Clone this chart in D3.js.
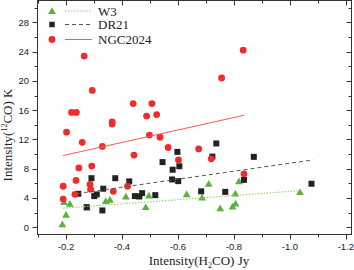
<!DOCTYPE html>
<html>
<head>
<meta charset="utf-8">
<script src="https://cdn.jsdelivr.net/npm/d3@7"></script>
<style>
  body { margin: 0; background: #fff; }
  svg { display: block; }
  .tick-label { font-family: "Liberation Sans", Arial, sans-serif; font-size: 9.5px; fill: #222; }
  .serif { font-family: "Liberation Serif", "Times New Roman", serif; font-size: 13px; fill: #222; }
</style>
</head>
<body>
<div id="root"></div>
<script>
// W3 (green triangles)
const w3X = [-0.187, -0.200, -0.193, -0.214, -0.275, -0.342, -0.357, -0.414, -0.485, -0.496,
             -0.631, -0.686, -0.710, -0.751, -0.795, -0.806, -0.805, -0.818, -1.036]
const w3Y = [0.4, 1.7, 3.45, 3.2, 2.7, 3.6, 3.75, 4.2, 2.75, 4.35,
             4.5, 4.05, 5.95, 2.6, 2.85, 3.25, 4.6, 6.3, 4.8]

// DR21 (black squares)
const dr21X = [-0.244, -0.274, -0.291, -0.301, -0.310, -0.330, -0.333, -0.376, -0.426, -0.446,
               -0.462, -0.472, -0.519, -0.545, -0.579, -0.581, -0.598, -0.601, -0.605, -0.683,
               -0.723, -0.737, -0.769, -0.836, -0.871, -1.077]
const dr21Y = [4.57, 2.74, 6.7, 4.25, 4.48, 2.29, 5.26, 6.7, 6.26, 4.25,
               4.2, 4.66, 4.38, 8.9, 6.53, 7.86, 10.3, 6.3, 8.33, 4.9,
               9.65, 11.45, 4.83, 6.47, 9.62, 5.94]

// NGC2024 (red circles)
const ngcX = [-0.190, -0.190, -0.202, -0.220, -0.237, -0.232, -0.236, -0.246, -0.258, -0.265,
              -0.286, -0.288, -0.292, -0.294, -0.330, -0.365, -0.365, -0.369, -0.420, -0.440,
              -0.443, -0.488, -0.498, -0.507, -0.524, -0.536, -0.565, -0.602, -0.674, -0.719,
              -0.756, -0.833, -0.836]
const ngcY = [3.84, 5.6, 13.0, 15.7, 15.7, 4.5, 6.4, 8.1, 11.6, 23.4,
              5.85, 5.2, 8.36, 18.7, 11.05, 14.4, 14.1, 4.9, 5.6, 16.9,
              9.86, 15.2, 12.6, 16.9, 15.4, 12.3, 10.9, 9.2, 10.7, 9.35,
              20.4, 24.2, 7.3]

// linear fits (end points)
const w3FitX = [-0.19, -1.036], w3FitY = [2.6, 5.0]
const dr21FitX = [-0.24, -1.083], dr21FitY = [4.6, 9.2]
const ngcFitX = [-0.19, -0.836], ngcFitY = [9.8, 15.3]

const xMajor = [-0.2, -0.4, -0.6, -0.8, -1.0, -1.2]
const xMinor = [-0.1, -0.3, -0.5, -0.7, -0.9, -1.1]
const yMajor = [0, 4, 8, 12, 16, 20, 24, 28]
const yMinor = [2, 6, 10, 14, 18, 22, 26, 30]

const legendNames = ['W3', 'DR21', 'NGC2024']

const w = 354, h = 270
const mLeft = 37.5, mRight = 351.5, mTop = 0.5, mBottom = 234.5

const x = d3.scaleLinear().domain([-0.1, -1.22]).range([mLeft + 0.5, mRight])
const y = d3.scaleLinear().domain([-1, 31]).range([mBottom, mTop])

const green = '#59b33a', black = '#222', red = '#f22a2a'

const svg = d3.select('#root')
    .append('svg')
    .attr('width', w)
    .attr('height', h)

// frame
svg.append('rect')
    .attr('x', mLeft).attr('y', mTop)
    .attr('width', mRight - mLeft).attr('height', mBottom - mTop)
    .attr('fill', 'none').attr('stroke', '#333').attr('stroke-width', 1)

const ticks = svg.append('g').attr('stroke', '#333').attr('stroke-width', 1)

// bottom (outward) and top (inward) ticks
xMajor.concat(xMinor).forEach(function(v) {
    const len = xMajor.includes(v) ? 5 : 3
    const px = Math.round(x(v)) + 0.5
    ticks.append('line').attr('x1', px).attr('x2', px).attr('y1', mBottom).attr('y2', mBottom + len)
    ticks.append('line').attr('x1', px).attr('x2', px).attr('y1', mTop).attr('y2', mTop + len)
})
// left (outward) and right (inward) ticks
yMajor.concat(yMinor).forEach(function(v) {
    const len = yMajor.includes(v) ? 5 : 3
    const py = Math.round(y(v)) + 0.5
    ticks.append('line').attr('y1', py).attr('y2', py).attr('x1', mLeft).attr('x2', mLeft - len)
    ticks.append('line').attr('y1', py).attr('y2', py).attr('x1', mRight).attr('x2', mRight - len)
})

svg.selectAll('.xlab')
    .data(xMajor)
    .enter()
    .append('text')
    .attr('class', 'tick-label')
    .attr('x', d => x(d))
    .attr('y', 250)
    .attr('text-anchor', 'middle')
    .text(d => d.toFixed(1))

svg.selectAll('.ylab')
    .data(yMajor)
    .enter()
    .append('text')
    .attr('class', 'tick-label')
    .attr('x', 29)
    .attr('y', d => y(d) + 3.4)
    .attr('text-anchor', 'end')
    .text(d => d)

// axis titles
const xt = svg.append('text')
    .attr('class', 'serif')
    .attr('x', 199)
    .attr('y', 265)
    .attr('text-anchor', 'middle')
xt.append('tspan').text('Intensity(H')
xt.append('tspan').attr('font-size', 8).attr('dy', 3).text('2')
xt.append('tspan').attr('dy', -3).text('CO) Jy')

const yt = svg.append('text')
    .attr('class', 'serif')
    .attr('transform', 'translate(12,135) rotate(-90)')
    .attr('text-anchor', 'middle')
yt.append('tspan').text('Intensity(')
yt.append('tspan').attr('font-size', 8).attr('dy', -5).text('12')
yt.append('tspan').attr('dy', 5).text('CO) K')

// markers
const tri = d3.symbol().type(d3.symbolTriangle).size(26)
const sq = d3.symbol().type(d3.symbolSquare).size(36)

svg.append('g').selectAll('path')
    .data(d3.zip(w3X, w3Y))
    .enter()
    .append('path')
    .attr('d', tri)
    .attr('transform', d => 'translate(' + x(d[0]) + ',' + (y(d[1]) + 0.8) + ')')
    .attr('fill', green)

svg.append('g').selectAll('path')
    .data(d3.zip(dr21X, dr21Y))
    .enter()
    .append('path')
    .attr('d', sq)
    .attr('transform', d => 'translate(' + x(d[0]) + ',' + y(d[1]) + ')')
    .attr('fill', black)

svg.append('g').selectAll('circle')
    .data(d3.zip(ngcX, ngcY))
    .enter()
    .append('circle')
    .attr('cx', d => x(d[0]))
    .attr('cy', d => y(d[1]))
    .attr('r', 3.4)
    .attr('fill', red)

// fit lines
const line = d3.line().x(d => x(d[0])).y(d => y(d[1]))
svg.append('path').attr('d', line(d3.zip(w3FitX, w3FitY)))
    .attr('stroke', '#8fd46a').attr('stroke-width', 1.1).attr('stroke-dasharray', '1.5,1.5').attr('fill', 'none')
svg.append('path').attr('d', line(d3.zip(dr21FitX, dr21FitY)))
    .attr('stroke', '#555').attr('stroke-width', 1).attr('stroke-dasharray', '4,3').attr('fill', 'none')
svg.append('path').attr('d', line(d3.zip(ngcFitX, ngcFitY)))
    .attr('stroke', '#f55').attr('stroke-width', 1).attr('fill', 'none')

// legend
const legendY = [11, 24.5, 39.5]
const lg = svg.append('g')
legendNames.forEach(function(name, i) {
    const ly = legendY[i]
    if (i === 0) lg.append('path').attr('d', tri).attr('transform', 'translate(52,' + (ly + 0.8) + ')').attr('fill', green)
    if (i === 1) lg.append('path').attr('d', d3.symbol().type(d3.symbolSquare).size(30)).attr('transform', 'translate(52,' + ly + ')').attr('fill', black)
    if (i === 2) lg.append('circle').attr('cx', 52).attr('cy', ly).attr('r', 3.4).attr('fill', red)
    const ln = lg.append('line').attr('x1', 65).attr('x2', 92).attr('y1', ly).attr('y2', ly)
    if (i === 0) ln.attr('stroke', '#8fd46a').attr('stroke-width', 1.1).attr('stroke-dasharray', '1.5,1.5')
    if (i === 1) ln.attr('stroke', '#555').attr('stroke-dasharray', '4,3')
    if (i === 2) ln.attr('stroke', '#f55')
    lg.append('text').attr('class', 'serif').attr('x', 98).attr('y', ly + 4.5).text(name)
})
</script>
</body>
</html>
